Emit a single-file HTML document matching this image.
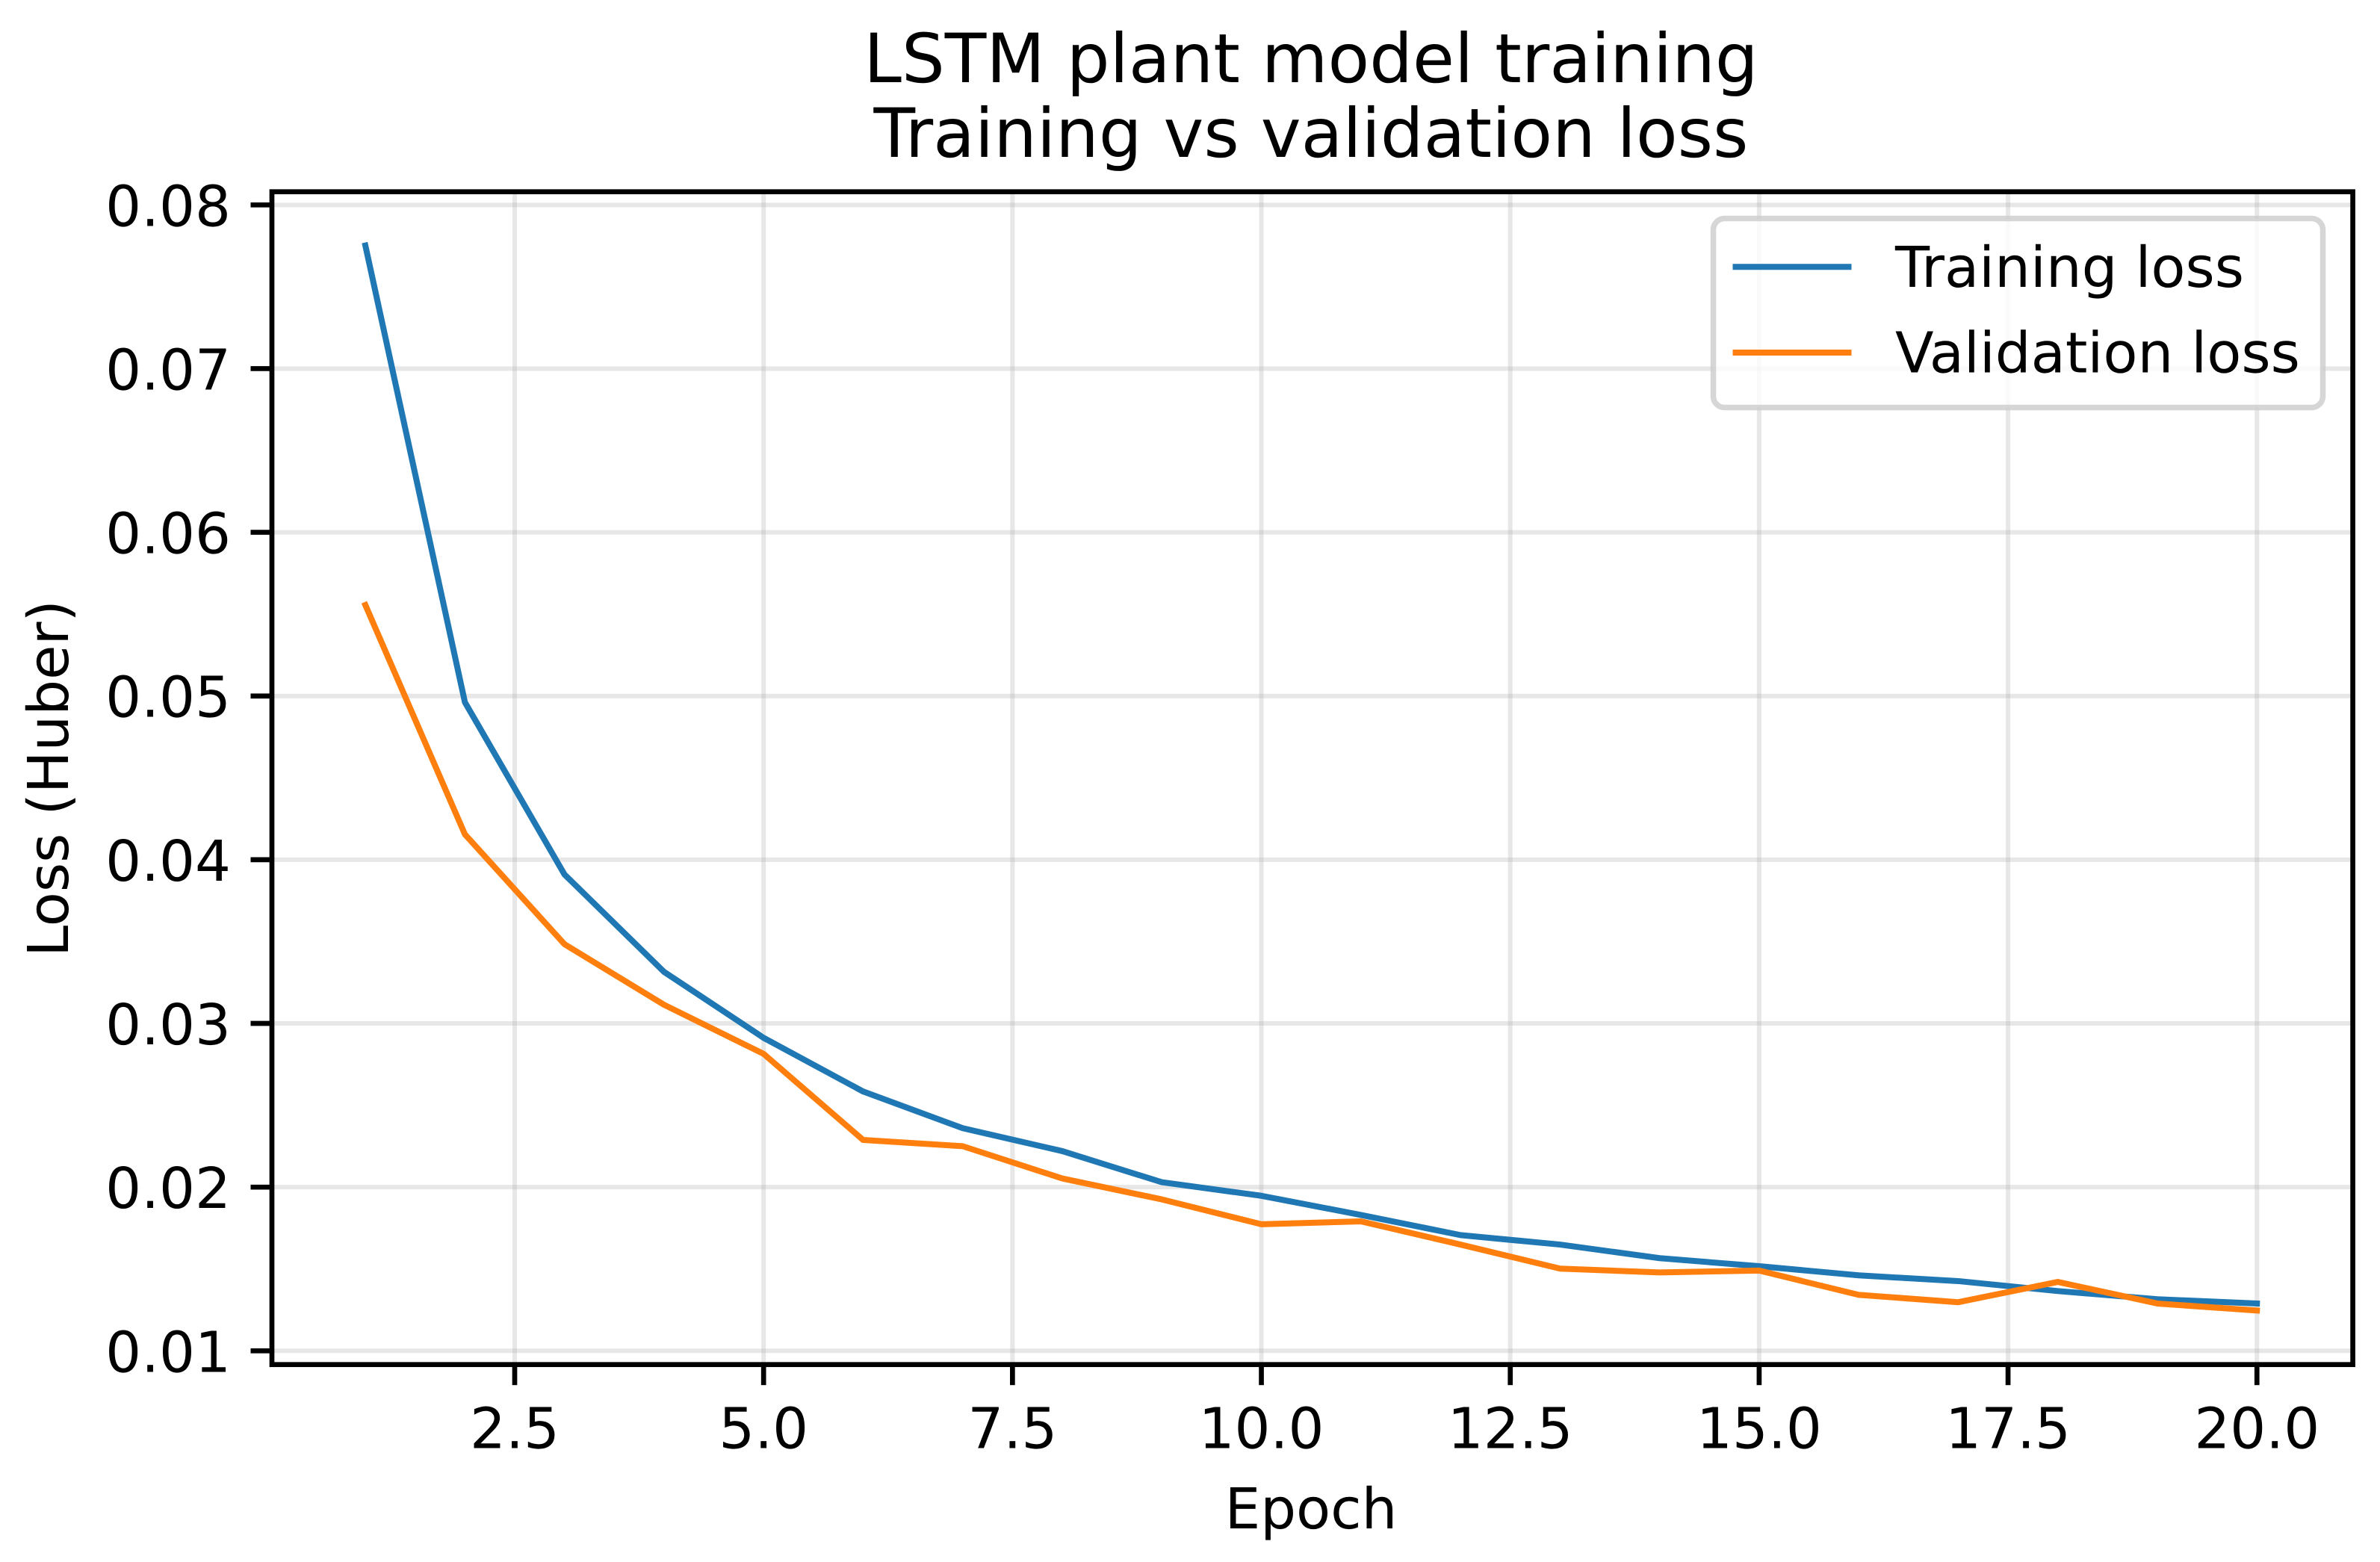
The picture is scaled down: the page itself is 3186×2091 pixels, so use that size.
<!DOCTYPE html>
<html lang="en">
<head>
<meta charset="utf-8">
<title>LSTM plant model training</title>
<style>
  html, body { margin: 0; padding: 0; background: #fff; }
  svg { display: block; }
  text { font-family: "DejaVu Sans", "Liberation Sans", sans-serif; fill: #000; text-rendering: geometricPrecision; }
</style>
</head>
<body>
<svg id="chart" xmlns="http://www.w3.org/2000/svg" width="3186" height="2091" viewBox="0 0 3186 2091">
  <rect x="0" y="0" width="3186" height="2091" fill="#fff"/>
  <g id="grid"></g>
  <g id="series"></g>
  <g id="ticks"></g>
  <rect x="364" y="256.7" width="2785.6" height="1570" fill="none" stroke="#000" stroke-width="6.67" stroke-linejoin="miter"/>
  <g>
    <text x="1755" y="110" font-size="91" text-anchor="middle">LSTM plant model training</text>
    <text x="1755" y="210" font-size="91" text-anchor="middle">Training vs validation loss</text>
  </g>
  <text x="1755" y="2046" font-size="75.4" text-anchor="middle">Epoch</text>
  <text transform="translate(91 1042) rotate(-90)" font-size="75.4" text-anchor="middle">Loss (Huber)</text>
  <g>
    <rect x="2293.5" y="292.5" width="816" height="253" rx="15" ry="15" fill="#fff" fill-opacity="0.8" stroke="#ccc" stroke-opacity="0.8" stroke-width="7.5"/>
    <g>
      <line x1="2323.5" y1="357.3" x2="2474.5" y2="357.3" stroke="#1f77b4" stroke-width="8" stroke-linecap="square"/>
      <text x="2537" y="384" font-size="75.4">Training loss</text>
    </g>
    <g>
      <line x1="2323.5" y1="472" x2="2474.5" y2="472" stroke="#ff7f0e" stroke-width="8" stroke-linecap="square"/>
      <text x="2537" y="498.3" font-size="75.4">Validation loss</text>
    </g>
  </g>
</svg>
<script>
const epochs = [1, 2, 3, 4, 5, 6, 7, 8, 9, 10, 11, 12, 13, 14, 15, 16, 17, 18, 19, 20];
const trainingLoss = [0.07752, 0.04962, 0.03910, 0.03315, 0.02912, 0.02584, 0.02360, 0.02220, 0.02030, 0.01947, 0.01830, 0.01707, 0.01649, 0.01566, 0.01517, 0.01461, 0.01426, 0.01365, 0.01315, 0.01289];
const validationLoss = [0.05556, 0.04155, 0.03484, 0.03114, 0.02814, 0.02288, 0.02250, 0.02053, 0.01925, 0.01773, 0.01791, 0.01649, 0.01502, 0.01479, 0.01490, 0.01342, 0.01297, 0.01421, 0.01289, 0.01246];
const xTickValues = [2.5, 5, 7.5, 10, 12.5, 15, 17.5, 20];
const xTickLabels = ["2.5", "5.0", "7.5", "10.0", "12.5", "15.0", "17.5", "20.0"];
const yTickValues = [0.01, 0.02, 0.03, 0.04, 0.05, 0.06, 0.07, 0.08];
const yTickLabels = ["0.01", "0.02", "0.03", "0.04", "0.05", "0.06", "0.07", "0.08"];

const NS = "http://www.w3.org/2000/svg";
const plotLeft = 364, plotRight = 3149.6, plotTop = 256.7, plotBottom = 1826.7;
const xDomainMin = 0.0613, xDomainMax = 20.963;
const yAtDomainMin = 0.01 - (plotBottom - 1808.3) / 21914;
const yAtDomainMax = 0.01 + (1808.3 - plotTop) / 21914;

function xScale(v) {
  return plotLeft + (v - xDomainMin) / (xDomainMax - xDomainMin) * (plotRight - plotLeft);
}
function yScale(v) {
  return plotBottom - (v - yAtDomainMin) / (yAtDomainMax - yAtDomainMin) * (plotBottom - plotTop);
}
function make(tag, attrs, parent) {
  const el = document.createElementNS(NS, tag);
  for (const k in attrs) el.setAttribute(k, attrs[k]);
  parent.appendChild(el);
  return el;
}

const gridGroup = document.getElementById("grid");
const seriesGroup = document.getElementById("series");
const tickGroup = document.getElementById("ticks");

xTickValues.forEach(function (v, i) {
  const x = xScale(v);
  const g = make("line", { x1: x, y1: plotTop, x2: x, y2: plotBottom, stroke: "#b0b0b0", "stroke-opacity": 0.3, "stroke-width": 6 }, gridGroup);
  
  
  const t = make("line", { x1: x, y1: plotBottom, x2: x, y2: plotBottom + 27.5, stroke: "#000", "stroke-width": 6.67 }, tickGroup);
  
  
  const l = make("text", { x: x, y: 1938.5, "font-size": 75.4, "text-anchor": "middle" }, tickGroup);
  
  
  l.textContent = xTickLabels[i];
});

yTickValues.forEach(function (v, i) {
  const y = yScale(v);
  const g = make("line", { x1: plotLeft, y1: y, x2: plotRight, y2: y, stroke: "#b0b0b0", "stroke-opacity": 0.3, "stroke-width": 6 }, gridGroup);
  
  
  const t = make("line", { x1: plotLeft - 28.5, y1: y, x2: plotLeft, y2: y, stroke: "#000", "stroke-width": 6.67 }, tickGroup);
  
  
  const l = make("text", { x: 309, y: y + 28, "font-size": 75.4, "text-anchor": "end" }, tickGroup);
  
  
  l.textContent = yTickLabels[i];
});

function pointsFor(values) {
  return values.map(function (v, i) {
    return xScale(epochs[i]).toFixed(2) + "," + yScale(v).toFixed(2);
  }).join(" ");
}

const trainingLine = make("polyline", { points: pointsFor(trainingLoss), fill: "none", stroke: "#1f77b4", "stroke-width": 8, "stroke-linejoin": "round", "stroke-linecap": "square" }, seriesGroup);



const validationLine = make("polyline", { points: pointsFor(validationLoss), fill: "none", stroke: "#ff7f0e", "stroke-width": 8, "stroke-linejoin": "round", "stroke-linecap": "square" }, seriesGroup);


</script>
</body>
</html>
